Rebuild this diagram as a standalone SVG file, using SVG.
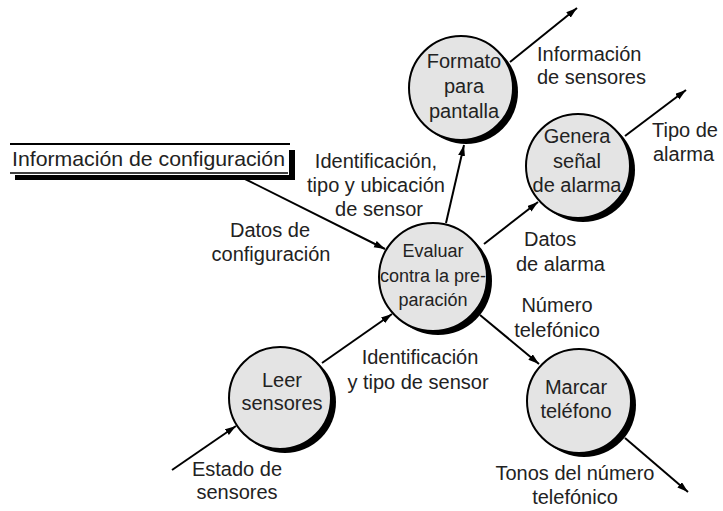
<svg xmlns="http://www.w3.org/2000/svg" width="723" height="511" viewBox="0 0 723 511">
<style>
text{font-family:"Liberation Sans",Arial,sans-serif;font-size:20px;fill:#222}
.c{text-anchor:middle}
.e{font-size:18px}
.bub{fill:#e4e4e4;stroke:#000;stroke-width:2}
.sh{fill:#000}
.ln{stroke:#000;stroke-width:2;fill:none}
.ar{marker-end:url(#ah)}
</style>
<defs>
<marker id="ah" markerUnits="userSpaceOnUse" markerWidth="12" markerHeight="8" refX="11" refY="3.5" orient="auto">
<path d="M0,0 L11,3.5 L0,7 z" fill="#000"/>
</marker>
</defs>
<rect width="723" height="511" fill="#fff"/>

<g id="store-config">
<line x1="10" y1="144" x2="290" y2="144" class="ln"/>
<line x1="10" y1="173" x2="288" y2="173" stroke="#000" stroke-width="1.5"/>
<path d="M289,150 H295 V180 H15 V175 H289 Z" fill="#000"/>
<text x="12" y="166" textLength="273" lengthAdjust="spacingAndGlyphs" style="font-size:21px">Información de configuración</text>
</g>

<g id="node-formato">
<circle cx="466" cy="92" r="52" class="sh"/>
<circle cx="461" cy="88" r="52" class="bub"/>
<text x="464" y="68" class="c">Formato</text>
<text x="464" y="93" class="c">para</text>
<text x="464" y="118" class="c">pantalla</text>
</g>

<g id="node-genera">
<circle cx="583" cy="170" r="52" class="sh"/>
<circle cx="578" cy="166" r="52" class="bub"/>
<text x="577" y="143" class="c">Genera</text>
<text x="577" y="168" class="c">señal</text>
<text x="577" y="192" class="c">de alarma</text>
</g>

<g id="node-evaluar">
<circle cx="438" cy="281" r="54" class="sh"/>
<circle cx="433" cy="277" r="54" class="bub"/>
<text x="433" y="257" class="c e">Evaluar</text>
<text x="433" y="282" class="c e">contra la pre-</text>
<text x="433" y="306" class="c e">paración</text>
</g>

<g id="node-leer">
<circle cx="285" cy="402" r="51" class="sh"/>
<circle cx="280" cy="398" r="51" class="bub"/>
<text x="282" y="387" class="c">Leer</text>
<text x="282" y="410" class="c">sensores</text>
</g>

<g id="node-marcar">
<circle cx="584" cy="405" r="52" class="sh"/>
<circle cx="579" cy="401" r="52" class="bub"/>
<text x="576" y="394" class="c">Marcar</text>
<text x="576" y="418" class="c">teléfono</text>
</g>

<g id="connectors">
<line x1="510" y1="62" x2="577" y2="8" class="ln ar"/>
<line x1="625" y1="136" x2="686" y2="90" class="ln ar"/>
<line x1="625" y1="438" x2="688" y2="492" class="ln ar"/>
<line x1="172" y1="470" x2="236" y2="426" class="ln ar"/>
<line x1="243" y1="178" x2="385" y2="249" class="ln ar"/>
<line x1="446" y1="223" x2="464" y2="145" class="ln ar"/>
<line x1="484" y1="244" x2="538" y2="202" class="ln ar"/>
<line x1="480" y1="315" x2="539" y2="364" class="ln ar"/>
<line x1="322" y1="363" x2="392" y2="314" class="ln ar"/>
</g>

<g id="labels">
<text x="537" y="61">Información</text>
<text x="537" y="84">de sensores</text>
<text x="652" y="137">Tipo de</text>
<text x="653" y="161">alarma</text>
<text x="376" y="168" class="c">Identificación,</text>
<text x="376" y="192" class="c">tipo y ubicación</text>
<text x="379" y="216" class="c">de sensor</text>
<text x="270" y="237" class="c">Datos de</text>
<text x="271" y="261" class="c">configuración</text>
<text x="524" y="246">Datos</text>
<text x="516" y="271">de alarma</text>
<text x="557" y="312" class="c">Número</text>
<text x="557" y="337" class="c">telefónico</text>
<text x="420" y="364" class="c">Identificación</text>
<text x="418" y="389" class="c">y tipo de sensor</text>
<text x="237" y="476" class="c">Estado de</text>
<text x="237" y="499" class="c">sensores</text>
<text x="575" y="480" class="c">Tonos del número</text>
<text x="575" y="504" class="c">telefónico</text>
</g>
</svg>
